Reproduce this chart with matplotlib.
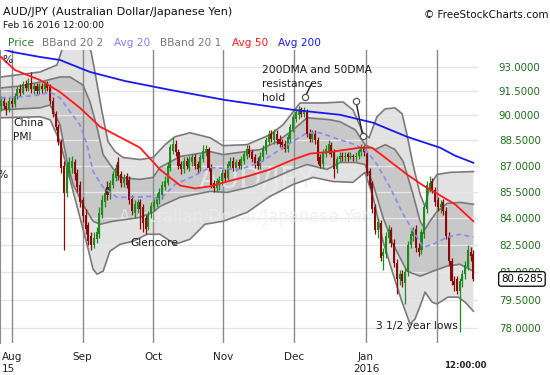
import numpy as np
import matplotlib.pyplot as plt
import matplotlib.transforms as mtransforms
from matplotlib.ticker import NullLocator

# AUD/JPY daily bars, Jul 30 2015 .. Feb 16 2016 (Sunday sessions included)
opens = [90.6, 90.9, 90.6, 90.4, 90.9, 90.7, 91.2, 91.6, 91.4, 91.9,
         91.7, 92.0, 91.6, 91.8, 91.5, 91.8, 91.6, 91.9, 91.8, 90.9,
         90.1, 89.3, 88.4, 87.0, 85.4, 86.6, 86.9, 87.2, 86.6, 85.9,
         85.0, 84.2, 83.6, 83.0, 82.5, 82.8, 83.1, 84.2, 84.9, 85.8,
         85.4, 85.9, 86.3, 87.2, 86.5, 86.0, 86.4, 86.2, 85.1, 84.3,
         84.5, 84.9, 84.6, 84.0, 83.5, 84.3, 84.6, 84.8, 85.0, 85.3,
         85.8, 86.0, 86.9, 87.9, 88.3, 87.8, 87.1, 86.8, 87.3, 86.9,
         87.2, 87.5, 87.1, 86.9, 87.4, 87.8, 88.0, 86.9, 86.0, 85.7,
         86.0, 86.1, 86.6, 86.3, 87.0, 87.3, 86.9, 87.2, 87.0, 87.3,
         87.6, 88.0, 87.8, 87.5, 87.3, 87.0, 87.5, 87.9, 88.4, 88.9,
         88.5, 88.9, 88.6, 88.4, 88.3, 88.0, 88.6, 89.2, 89.8, 90.0,
         90.4, 90.1, 90.3, 89.0, 88.6, 88.9, 88.5, 87.5, 87.1, 87.7,
         87.9, 88.2, 87.8, 86.8, 87.4, 87.6, 87.5, 87.7, 87.5, 87.6,
         87.5, 87.6, 87.8, 88.1, 87.7, 86.7, 86.0, 84.6, 83.3, 83.7,
         81.9, 82.0, 82.9, 83.3, 82.6, 81.5, 80.6, 80.9, 80.4, 81.0,
         82.5, 83.0, 83.4, 82.3, 82.2, 83.1, 84.5, 85.7, 86.1, 85.6,
         85.0, 84.6, 84.9, 84.4, 83.0, 81.6, 80.5, 80.6, 80.0, 80.5,
         80.9, 81.3, 82.1, 82.0]
closes = [90.9, 90.6, 90.4, 90.9, 90.7, 91.2, 91.6, 91.4, 91.9, 91.7,
          92.0, 91.6, 91.8, 91.5, 91.8, 91.6, 91.9, 91.7, 90.9, 90.1,
          89.3, 88.4, 86.9, 85.4, 86.9, 87.2, 87.3, 86.5, 85.8, 84.9,
          84.1, 83.4, 82.7, 82.5, 82.9, 83.2, 84.3, 85.0, 85.4, 85.3,
          86.0, 86.5, 86.9, 86.4, 86.0, 86.3, 85.9, 85.0, 84.4, 84.8,
          84.9, 84.5, 83.7, 83.4, 84.2, 84.7, 84.9, 85.2, 85.5, 85.9,
          86.1, 87.0, 88.1, 88.3, 87.8, 87.0, 86.8, 87.3, 87.0, 87.4,
          87.5, 87.0, 86.8, 87.5, 87.9, 88.0, 86.9, 85.9, 85.7, 86.1,
          86.2, 86.6, 86.3, 87.1, 87.3, 86.9, 87.2, 87.0, 87.4, 87.7,
          88.0, 87.7, 87.4, 87.1, 87.0, 87.6, 88.0, 88.5, 88.9, 88.6,
          89.0, 88.5, 88.3, 88.2, 88.0, 88.7, 89.3, 89.9, 90.2, 90.3,
          90.1, 90.3, 88.9, 88.6, 88.9, 88.5, 87.3, 87.0, 87.8, 88.0,
          88.3, 87.7, 86.8, 87.4, 87.6, 87.5, 87.6, 87.5, 87.6, 87.5,
          87.6, 87.9, 88.1, 87.8, 86.6, 85.9, 84.5, 83.3, 83.8, 81.8,
          82.1, 83.0, 83.4, 82.6, 81.5, 80.6, 80.9, 80.5, 81.0, 82.5,
          83.1, 83.3, 82.3, 82.1, 83.2, 84.6, 85.9, 86.0, 85.6, 84.9,
          84.6, 84.8, 84.4, 83.0, 81.6, 80.5, 80.3, 80.0, 80.5, 80.9,
          81.4, 82.2, 81.9, 80.6285]
highs = [91.2, 91.1, 90.8, 91.1, 91.1, 91.4, 91.8, 91.9, 92.1, 92.2,
         92.3, 92.67, 92.0, 92.0, 92.0, 92.0, 92.1, 92.1, 91.9, 91.1,
         90.3, 89.5, 88.6, 87.3, 87.2, 87.5, 87.6, 87.4, 86.8, 86.1,
         85.2, 84.5, 83.8, 83.2, 83.2, 83.5, 84.6, 85.3, 85.7, 86.1,
         86.2, 86.7, 87.1, 87.5, 86.7, 86.5, 86.6, 86.4, 85.3, 85.0,
         85.1, 85.1, 84.8, 84.2, 84.4, 84.9, 85.1, 85.4, 85.7, 86.1,
         86.4, 87.2, 88.3, 88.7, 88.5, 88.0, 87.3, 87.5, 87.5, 87.6,
         87.7, 87.7, 87.3, 87.7, 88.2, 88.2, 88.1, 87.1, 86.2, 86.3,
         86.4, 86.8, 86.8, 87.3, 87.5, 87.5, 87.4, 87.4, 87.6, 87.9,
         88.2, 88.2, 88.0, 87.7, 87.5, 87.8, 88.2, 88.7, 89.1, 89.1,
         89.2, 89.1, 88.8, 88.6, 88.5, 88.9, 89.5, 90.1, 90.4, 90.6,
         90.5, 90.5, 90.4, 89.2, 89.1, 89.1, 88.7, 87.7, 88.0, 88.2,
         88.5, 88.4, 88.0, 87.6, 87.8, 87.8, 87.8, 87.8, 87.8, 87.7,
         87.8, 88.0, 88.3, 88.2, 87.8, 86.9, 86.1, 84.8, 84.0, 83.9,
         82.3, 83.2, 83.6, 83.5, 82.8, 81.7, 81.1, 81.1, 81.2, 82.7,
         83.3, 83.5, 83.6, 82.6, 83.4, 84.8, 86.1, 86.4, 86.3, 85.8,
         85.2, 85.0, 85.1, 84.6, 83.2, 81.8, 80.8, 80.8, 80.7, 81.1,
         81.6, 82.5, 82.4, 82.2]
lows = [90.3, 90.4, 90.0, 90.2, 90.5, 90.5, 91.0, 91.2, 91.3, 91.5,
        91.5, 91.4, 91.3, 91.3, 91.3, 91.4, 91.4, 91.5, 90.7, 89.9,
        89.1, 88.2, 86.6, 82.2, 85.2, 86.3, 86.6, 86.2, 85.5, 84.6,
        83.8, 83.1, 82.5, 82.2, 82.3, 82.6, 82.9, 84.0, 84.6, 85.0,
        85.1, 85.7, 86.1, 86.2, 85.8, 85.8, 85.7, 84.8, 84.2, 84.0,
        84.3, 83.4, 83.2, 83.1, 83.3, 84.0, 84.4, 84.6, 84.8, 85.1,
        85.6, 85.9, 86.7, 87.7, 87.6, 86.8, 86.5, 86.6, 86.8, 86.7,
        87.0, 86.8, 86.6, 86.7, 87.2, 87.6, 86.7, 85.7, 85.5, 85.5,
        85.6, 85.9, 86.1, 86.2, 86.8, 86.7, 86.7, 86.8, 86.8, 87.1,
        87.4, 87.5, 87.2, 86.9, 86.8, 86.8, 87.3, 87.7, 88.2, 88.4,
        88.3, 88.3, 88.1, 88.0, 87.8, 87.8, 88.4, 89.0, 89.6, 89.8,
        89.9, 89.9, 88.7, 88.4, 88.4, 88.3, 87.1, 86.9, 86.9, 87.5,
        87.7, 87.5, 86.3, 86.6, 87.2, 87.3, 87.3, 87.3, 87.4, 87.3,
        87.3, 87.4, 87.6, 87.6, 86.4, 85.7, 84.3, 83.1, 82.9, 81.6,
        81.1, 81.8, 82.6, 82.4, 81.3, 79.8, 80.3, 80.2, 79.3, 80.8,
        82.3, 82.7, 82.1, 81.9, 82.0, 82.9, 84.3, 85.5, 85.4, 84.7,
        84.4, 84.3, 84.2, 82.8, 81.4, 80.3, 80.0, 79.8, 77.8, 80.2,
        80.6, 81.1, 81.6, 80.5]

# moving averages and Bollinger bands, read at sparse bars (bar index, price)
avg200_x = [0, 4, 14.3, 21.6, 32.6, 45.4, 61.9, 82.1, 107, 124.2, 136.3, 148.7, 160.8, 166.3, 173]
avg200 = [94.15, 93.93, 93.61, 93.42, 92.67, 92.11, 91.56, 90.94, 90.34, 90.04, 89.56, 88.72, 88.07, 87.6, 87.18]

avg50_x = [0, 5.1, 14.3, 21.6, 28.9, 36.3, 44.7, 50.9, 58.2, 65.6, 71.1, 76.6, 82.8, 90.1,
           98.5, 107, 113.2, 121.6, 131.5, 135.9, 142.5, 148.7, 154.6, 160.8, 166.3, 173]
avg50 = [93.61, 92.79, 92.17, 91.43, 90.46, 89.32, 88.6, 88.07, 86.79, 85.86, 85.69, 85.81, 86.09, 86.38,
         86.79, 87.37, 87.72, 87.84, 88.07, 88.07, 87.26, 86.5, 85.86, 85.29, 84.78, 83.82]

avg20_x = [0, 7, 14.3, 18, 21.6, 25.3, 28.9, 31.5, 33.7, 37.4, 42.5, 48.4, 54.6, 58.2, 63.7, 70.3,
           76.6, 87.5, 94.9, 102.2, 112.1, 116.8, 124.2, 129.7, 134.1, 137.7, 142.5, 147.3, 151.7,
           154.6, 158.2, 163.4, 168.1, 173]
avg20 = [91.07, 91.13, 91.25, 91.43, 91.07, 90.22, 89.44, 88.25, 86.67, 85.75, 85.18, 85.18, 85.23, 85.06,
         85.92, 86.38, 86.91, 86.79, 87.2, 87.96, 88.96, 88.96, 88.54, 88.25, 87.84, 87.08, 85.75, 84.21,
         83.09, 82.37, 82.53, 82.92, 83.09, 82.92]

upper2_x = [0, 14.3, 20.5, 22.3, 24.5, 28.2, 31.5, 33, 34.4, 37, 39.2, 41.8, 44.7, 50.9, 55.7, 60.1,
            63.7, 69.2, 76.6, 81.3, 90.1, 98.5, 103.3, 107, 109.5, 118, 125.3, 128.9, 132.6, 134.8,
            137.7, 140.7, 144.3, 146.9, 148.7, 150.9, 153.5, 155.3, 157.1, 159.7, 164.5, 173]
upper2 = [92.36, 92.67, 93.11, 94.05, 94.69, 95.01, 94.56, 93.93, 92.67, 90.22, 88.43, 87.84, 87.49,
          87.37, 87.49, 88.25, 88.72, 88.96, 88.66, 88.19, 88.25, 88.84, 89.44, 90.22, 90.76, 90.76,
          90.82, 90.34, 88.96, 88.66, 89.92, 90.4, 90.46, 90.1, 88.84, 87.08, 85.35, 84.66, 85.86,
          86.5, 86.62, 86.67]

upper1_x = [0, 7, 14.3, 21.6, 25.3, 30, 32.6, 35.2, 37.4, 40.7, 43.6, 50.9, 55.7, 58.2, 65.6, 76.6,
            81.3, 94.9, 101.1, 107, 112.1, 120.5, 124.2, 129.7, 133.3, 137, 140.7, 144.3, 147.3,
            150.9, 153.5, 155.3, 157.1, 159.7, 163.4, 168.1, 173]
upper1 = [91.68, 91.8, 92.05, 92.36, 92.36, 91.86, 90.82, 89.26, 87.66, 86.91, 86.33, 86.21, 86.33,
          86.91, 87.55, 87.84, 87.66, 87.96, 88.43, 89.14, 89.86, 89.74, 89.62, 89.14, 88.25, 87.96,
          88.25, 87.96, 87.26, 85.35, 83.82, 83.37, 83.82, 84.38, 84.83, 84.89, 84.78]

lower1_x = [0, 14.3, 18, 21.6, 24.2, 26.4, 30, 33.7, 36.3, 41, 46.2, 50.9, 55.7, 58.2, 65.6, 76.6,
            82.8, 92.3, 101.1, 107, 112.1, 119.4, 124.2, 129.7, 133.3, 136.3, 139.9, 143.6, 148.7,
            153.5, 158.2, 163.4, 168.1, 173]
lower1 = [90.34, 90.46, 90.64, 89.44, 87.26, 85.92, 84.78, 83.82, 83.65, 83.82, 83.93, 84.04, 84.32,
          84.66, 85.18, 85.52, 85.46, 85.81, 86.38, 86.79, 87.08, 86.79, 87.2, 87.2, 87.08, 85.92,
          84.04, 82.53, 81.05, 80.78, 81.05, 81.33, 81.43, 81.05]

lower2_x = [0, 14.3, 18, 21.6, 26.4, 28.9, 31.5, 33.7, 35.2, 37.4, 39.9, 43.6, 48.4, 53.5, 58.2,
            63.7, 69.2, 74.7, 81.3, 90.1, 98.5, 107, 114.3, 121.6, 128.9, 133.3, 136.3, 139.9,
            143.6, 146.9, 149.8, 151.6, 153.5, 155.3, 157.9, 159.7, 163.7, 167.4, 170, 173]
lower2 = [89.86, 89.92, 89.74, 88.43, 85.52, 84.04, 82.53, 81.16, 80.89, 81.05, 82.15, 82.53, 82.7,
          83.09, 83.09, 82.53, 82.81, 83.65, 83.82, 84.32, 85.23, 85.92, 86.33, 86.09, 86.04, 86.62,
          85.18, 82.7, 80.89, 79.38, 78.22, 78.48, 79.17, 79.92, 79.38, 79.28, 79.65, 79.65, 79.38,
          78.9]

month_pos = [3.9, 29.9, 55.8, 81.3, 107.3, 133.7, 159.7]
month_labels = ["Aug\n15", "Sep", "Oct", "Nov", "Dec", "Jan\n2016", ""]
price_ticks = [93.0, 91.5, 90.0, 88.5, 87.0, 85.5, 84.0, 82.5, 81.0, 79.5, 78.0]
last_price = closes[-1]

GREEN = '#1e8a1e'
MAROON = '#8b0a0a'
BAND_LINE = '#7a7a7a'

fig = plt.figure(figsize=(5.5, 3.75), dpi=100)
ax = fig.add_axes([0, 32 / 375, 478 / 550, 293 / 375])
ax.set_yscale('log')
ax.set_ylim(77.23, 94.05)
ax.set_xlim(-0.37, 174.7)

# Bollinger band fills + outlines
ax.fill(np.r_[upper2_x, lower2_x[::-1]], np.r_[upper2, lower2[::-1]],
        color='#e2e2e2', lw=0, zorder=1)
ax.fill(np.r_[upper1_x, lower1_x[::-1]], np.r_[upper1, lower1[::-1]],
        color='#c8c8c8', lw=0, zorder=1.1)

# grid
for v in price_ticks:
    ax.axhline(v, color='#e6e6e6', lw=1, zorder=1.3)
for m in month_pos:
    ax.axvline(m, color='#8a8a8a', lw=1, zorder=1.4)

for bx, by in [(upper2_x, upper2), (lower2_x, lower2), (upper1_x, upper1), (lower1_x, lower1)]:
    ax.plot(bx, by, color=BAND_LINE, lw=1.2, zorder=2)

# watermark
ax.text(0.538, 0.556, 'AUD/JPY', transform=ax.transAxes, fontsize=21,
        color='#ececec', alpha=0.75, ha='center', va='center', zorder=1.8)
ax.text(0.515, 0.43, 'Australian Dollar/Japanese Yen', transform=ax.transAxes,
        fontsize=12, color='#ececec', alpha=0.75, ha='center', va='center', zorder=1.8)

# candles
x = np.arange(len(closes))
o = np.array(opens)
c = np.array(closes)
up = c >= o
cols = np.where(up, GREEN, MAROON)
ax.vlines(x, lows, highs, colors=cols, lw=0.9, zorder=3)
body_lo = np.minimum(o, c)
body_h = np.maximum(np.abs(c - o), 0.05)
ax.bar(x, body_h, bottom=body_lo, width=0.75, color=cols, lw=0, zorder=3.1)

# moving averages
ax.plot(avg20_x, avg20, color='#8a8af2', lw=1.2, dashes=(3, 2), zorder=3.5)
ax.plot(avg50_x, avg50, color='#ff1a1a', lw=1.3, zorder=3.6)
ax.plot(avg200_x, avg200, color='#1a1aee', lw=1.3, zorder=3.6)

# annotations
note_kw = dict(fontsize=7.7, color='#1a1a1a', zorder=6)
ax.text(4.4, 89.14, 'China\nPMI', ha='left', va='center', linespacing=1.5, **note_kw)
ax.text(4.4, 93.42, '%', ha='right', va='center', **note_kw)
ax.text(2.6, 86.44, '%', ha='right', va='center', **note_kw)
ax.text(56, 82.59, 'Glencore', ha='center', va='center', **note_kw)
ax.text(95.6, 91.92, '200DMA and 50DMA\nresistances\nhold', ha='left', va='center',
        linespacing=1.5, **note_kw)
ax.text(137.4, 78.11, '3 1/2 year lows', ha='left', va='center', **note_kw)

ax.plot([111.4, 113.8], [91.14, 91.97], color='#222222', lw=1.0, zorder=6)
ax.plot([130.0, 132.5], [90.88, 88.74], color='#222222', lw=1.0, zorder=6)
ax.plot([111.4, 130.0, 132.5], [91.14, 90.88, 88.74], ls='none', marker='o', ms=4.5,
        mfc='white', mec='#555555', mew=0.9, zorder=6.1)

# axes styling
for s in ['top', 'right', 'bottom']:
    ax.spines[s].set_visible(False)
ax.spines['left'].set_color('#8a8a8a')

ax.yaxis.tick_right()
ax.yaxis.set_minor_locator(NullLocator())
ax.set_yticks(price_ticks)
ax.set_yticklabels([f'{v:.4f}' for v in price_ticks])
ax.tick_params(axis='y', length=0, pad=15, labelsize=7.4, labelcolor='#1e6e1e')

ax.xaxis.set_minor_locator(NullLocator())
ax.set_xticks(month_pos)
ax.set_xticklabels(month_labels)
ax.tick_params(axis='x', length=0, pad=6.5, labelsize=7.5, labelcolor='#222222')
ax.get_xticklabels()[0].set_multialignment('left')

trans = mtransforms.blended_transform_factory(ax.transAxes, ax.transData)
ax.text(1.048, last_price, f'{last_price:.4f}', transform=trans, fontsize=7.4,
        ha='left', va='center', color='black', zorder=10, clip_on=False,
        bbox=dict(boxstyle='round,pad=0.22', fc='white', ec='black', lw=0.9))

# header
fig.text(3 / 550, 1 - 12 / 375, 'AUD/JPY (Australian Dollar/Japanese Yen)', fontsize=8.1,
         color='#111111', va='center', ha='left')
fig.text(3 / 550, 1 - 26 / 375, 'Feb 16 2016 12:00:00', fontsize=6.6, color='#111111',
         va='center', ha='left')
fig.text(548 / 550, 1 - 15 / 375, '\u00a9 FreeStockCharts.com', fontsize=7.5,
         color='#111111', va='center', ha='right')
legend_items = [('Price', 8, '#2e7d2e'), ('BBand 20 2', 42, '#777777'), ('Avg 20', 114, '#8080ff'),
                ('BBand 20 1', 160, '#777777'), ('Avg 50', 232, '#ff1a1a'), ('Avg 200', 278, '#1a1aee')]
for name, px, col in legend_items:
    fig.text(px / 550, 1 - 43 / 375, name, fontsize=7.6, color=col, va='center', ha='left')

fig.text(465 / 550, 1 - 365 / 375, '12:00:00', fontsize=6.2, fontweight='bold',
         color='#222222', va='center', ha='center')

fig.savefig('out.png', dpi=100)
